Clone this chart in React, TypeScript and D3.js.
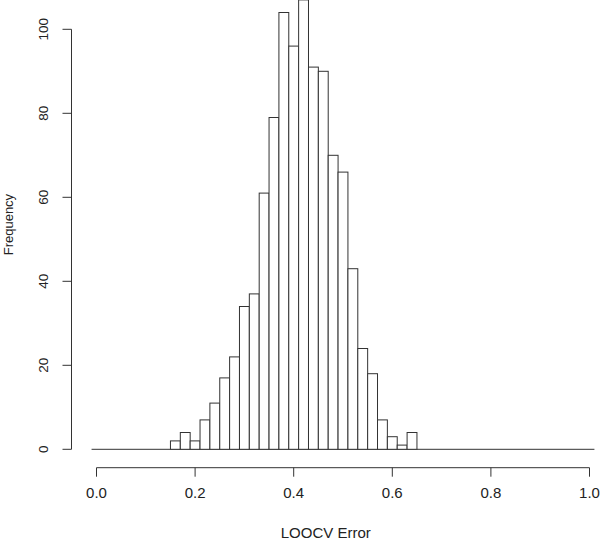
import React, {useEffect, useRef} from 'react';
import * as d3 from 'd3';

// histogram of LOOCV error, bin width 0.02
const binLefts = [0.15, 0.17, 0.19, 0.21, 0.23, 0.25, 0.27, 0.29, 0.31, 0.33, 0.35, 0.37, 0.39,
  0.41, 0.43, 0.45, 0.47, 0.49, 0.51, 0.53, 0.55, 0.57, 0.59, 0.61, 0.63];
const counts = [2, 4, 2, 7, 11, 17, 22, 34, 37, 61, 79, 104, 96, 107, 91, 90, 70, 66, 43, 24, 18, 7, 3, 1, 4];
const binWidth = 0.02;
const xTicks = [0, 0.2, 0.4, 0.6, 0.8, 1.0];
const yTicks = [0, 20, 40, 60, 80, 100];
const xTitle = 'LOOCV Error';
const yTitle = 'Frequency';

const width = 600;
const height = 543;
const font = 'Liberation Sans, Arial, sans-serif';
const ink = '#333';

export default function App() {
  const ref = useRef<SVGSVGElement>(null);

  useEffect(() => {
    const svg = d3.select(ref.current);
    svg.selectAll('*').remove();

    const x = d3.scaleLinear().domain([0, 1]).range([96.5, 589.5]);
    const y = d3.scaleLinear().domain([0, 100]).range([449.3, 29.3]);

    // baseline across the full bin range
    svg.append('line')
      .attr('x1', x(-0.01)).attr('x2', x(1.01))
      .attr('y1', y(0)).attr('y2', y(0))
      .attr('stroke', ink).attr('stroke-width', 1);

    // bars
    svg.append('g')
      .selectAll('rect')
      .data(counts)
      .enter()
      .append('rect')
      .attr('x', (d, i) => x(binLefts[i]))
      .attr('width', x(binWidth) - x(0))
      .attr('y', d => y(d))
      .attr('height', d => y(0) - y(d))
      .attr('fill', 'white')
      .attr('stroke', ink)
      .attr('stroke-width', 1);

    // x axis
    const xa = svg.append('g');
    const xAxisY = 467.7;
    xa.append('line')
      .attr('x1', x(0)).attr('x2', x(1))
      .attr('y1', xAxisY).attr('y2', xAxisY)
      .attr('stroke', ink);
    xTicks.forEach(t => {
      xa.append('line')
        .attr('x1', x(t)).attr('x2', x(t))
        .attr('y1', xAxisY).attr('y2', xAxisY + 9)
        .attr('stroke', ink);
      xa.append('text')
        .attr('x', x(t)).attr('y', 498)
        .attr('text-anchor', 'middle')
        .attr('font-family', font).attr('font-size', 15)
        .attr('fill', '#222')
        .text(d3.format('.1f')(t));
    });
    svg.append('text')
      .attr('x', x(0.465)).attr('y', 538)
      .attr('text-anchor', 'middle')
      .attr('font-family', font).attr('font-size', 15)
      .attr('fill', '#222')
      .text(xTitle);

    // y axis
    const ya = svg.append('g');
    const yAxisX = 71.5;
    ya.append('line')
      .attr('x1', yAxisX).attr('x2', yAxisX)
      .attr('y1', y(0)).attr('y2', y(100))
      .attr('stroke', ink);
    yTicks.forEach(t => {
      ya.append('line')
        .attr('x1', yAxisX - 9).attr('x2', yAxisX)
        .attr('y1', y(t)).attr('y2', y(t))
        .attr('stroke', ink);
      ya.append('text')
        .attr('transform', `translate(${48},${y(t)}) rotate(-90)`)
        .attr('text-anchor', 'middle')
        .attr('font-family', font).attr('font-size', 13.5)
        .attr('fill', '#222')
        .text(t);
    });
    svg.append('text')
      .attr('transform', `translate(${13},${y(53.5)}) rotate(-90)`)
      .attr('text-anchor', 'middle')
      .attr('font-family', font).attr('font-size', 13)
      .attr('fill', '#222')
      .text(yTitle);
  }, []);

  return (
    <svg ref={ref} width={width} height={height}
      style={{position: 'absolute', left: 0, top: 0, background: 'white'}} />
  );
}
